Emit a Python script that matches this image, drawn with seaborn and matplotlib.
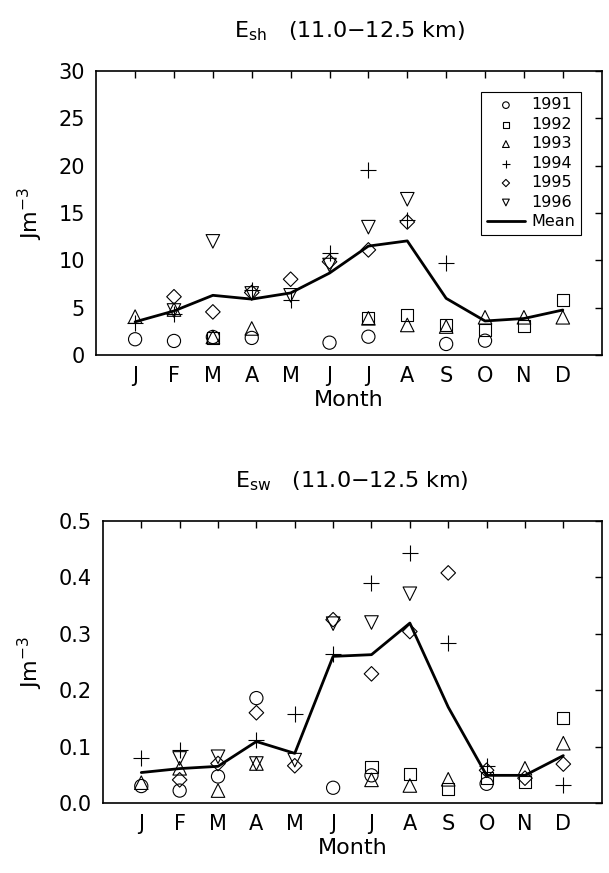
import matplotlib
matplotlib.use("Agg")
import matplotlib.pyplot as plt
import numpy as np
import pandas as pd
import seaborn as sns

sns.set_theme(style="white")
plt.rcParams["font.family"] = ["DejaVu Sans"]
plt.rcParams["mathtext.fontset"] = "dejavusans"
plt.rcParams["text.color"] = "black"
plt.rcParams["axes.labelcolor"] = "black"

nan = np.nan
months = ["J", "F", "M", "A", "M", "J", "J", "A", "S", "O", "N", "D"]
years = ["1991", "1992", "1993", "1994", "1995", "1996"]

# E_sh (11.0-12.5 km), J m^-3
esh_1991 = [1.66, 1.48, 1.9, 1.8, nan, 1.3, 1.93, nan, 1.16, 1.51, nan, nan]
esh_1992 = [nan, nan, 1.8, nan, nan, nan, 3.87, 4.22, 3.15, 2.64, 3.1, 5.8]
esh_1993 = [4.05, 4.8, 1.9, 2.8, nan, nan, 3.87, 3.17, 3.0, 3.98, 3.98, 3.98]
esh_1994 = [3.4, 4.3, nan, 6.9, 5.8, 10.8, 19.5, 14.3, 9.7, nan, nan, nan]
esh_1995 = [nan, 6.15, 4.55, 6.6, 8.0, 9.85, 11.1, 14.05, nan, nan, nan, nan]
esh_1996 = [nan, 4.7, 12.0, 6.5, 6.3, 9.5, 13.5, 16.45, nan, nan, nan, nan]
esh_mean = [3.5, 4.65, 6.3, 5.9, 6.55, 8.65, 11.5, 12.05, 5.98, 3.59, 3.85, 4.75]

# E_sw (11.0-12.5 km), J m^-3
esw_1991 = [0.030, 0.022, 0.047, 0.186, nan, 0.027, 0.049, nan, nan, 0.034, nan, nan]
esw_1992 = [nan, nan, nan, nan, nan, nan, 0.064, 0.052, 0.024, 0.045, 0.038, 0.151]
esw_1993 = [0.036, 0.0615, 0.022, 0.070, nan, nan, 0.041, 0.031, 0.042, nan, 0.0615, 0.106]
esw_1994 = [0.079, 0.094, nan, 0.112, 0.157, 0.264, 0.390, 0.444, 0.284, 0.066, nan, 0.032]
esw_1995 = [nan, 0.041, 0.070, 0.160, 0.066, 0.325, 0.229, 0.304, 0.408, 0.058, 0.044, 0.069]
esw_1996 = [nan, 0.079, 0.082, 0.070, 0.076, 0.318, 0.320, 0.371, nan, nan, nan, nan]
esw_mean = [0.054, 0.061, 0.065, 0.109, 0.088, 0.260, 0.263, 0.319, 0.170, 0.049, 0.049, 0.084]

markers = {"1991": "o", "1992": "s", "1993": "^", "1994": "+", "1995": "D", "1996": "v"}
sizes = {"1991": 90, "1992": 75, "1993": 95, "1994": 120, "1995": 55, "1996": 95}

TICK_FONTSIZE = 15
LABEL_FONTSIZE = 16


def draw_panel(ax, series, mean, ylim, yticks, yfmt, title, legend=False):
    x = np.arange(1, 13)
    for year, vals in zip(years, series):
        df = pd.DataFrame({"month": x, "value": vals}).dropna()
        m = markers[year]
        if m == "+":
            sns.scatterplot(data=df, x="month", y="value", marker=m, s=sizes[year],
                            color="black", linewidth=0.8, ax=ax, label=year)
        else:
            sns.scatterplot(data=df, x="month", y="value", marker=m, s=sizes[year],
                            facecolor="none", edgecolor="black", linewidth=0.8,
                            ax=ax, label=year)
    sns.lineplot(x=x, y=mean, color="black", linewidth=2.0, ax=ax, label="Mean")

    ax.set_xlim(0, 13)
    ax.set_ylim(*ylim)
    ax.set_xticks(x)
    ax.set_xticklabels(months)
    ax.set_yticks(yticks)
    ax.set_yticklabels([yfmt.format(v) for v in yticks])
    ax.tick_params(direction="in", top=True, right=True, length=5, width=1,
                   labelsize=TICK_FONTSIZE, pad=8, colors="black")
    for s in ax.spines.values():
        s.set_visible(True)
        s.set_color("black")
        s.set_linewidth(1.2)
    ax.set_xlabel("Month", fontsize=LABEL_FONTSIZE, labelpad=3)
    ax.set_ylabel(r"Jm$^{\mathregular{-3}}$", fontsize=LABEL_FONTSIZE, labelpad=10)
    ax.set_title(title, fontsize=LABEL_FONTSIZE, pad=24)

    if legend:
        leg = ax.legend(loc="upper right", fontsize=11.5, markerscale=0.5,
                        handlelength=2.4, handletextpad=0.4, labelspacing=0.28,
                        borderpad=0.35, borderaxespad=1.3, fancybox=False,
                        framealpha=1, edgecolor="black")
        leg.get_frame().set_linewidth(0.8)
    else:
        ax.get_legend().remove()


fig = plt.figure(figsize=(6.09, 8.73), dpi=100)
ax1 = fig.add_axes([0.158, 0.5934, 0.83, 0.3253])
ax2 = fig.add_axes([0.169, 0.0802, 0.819, 0.323])

draw_panel(ax1, [esh_1991, esh_1992, esh_1993, esh_1994, esh_1995, esh_1996], esh_mean,
           (0, 30), [0, 5, 10, 15, 20, 25, 30], "{:.0f}",
           r"E$_{\mathregular{sh}}$   (11.0$-$12.5 km)", legend=True)
draw_panel(ax2, [esw_1991, esw_1992, esw_1993, esw_1994, esw_1995, esw_1996], esw_mean,
           (0, 0.5), [0.0, 0.1, 0.2, 0.3, 0.4, 0.5], "{:.1f}",
           r"E$_{\mathregular{sw}}$   (11.0$-$12.5 km)")

fig.savefig("out.png", dpi=100)
